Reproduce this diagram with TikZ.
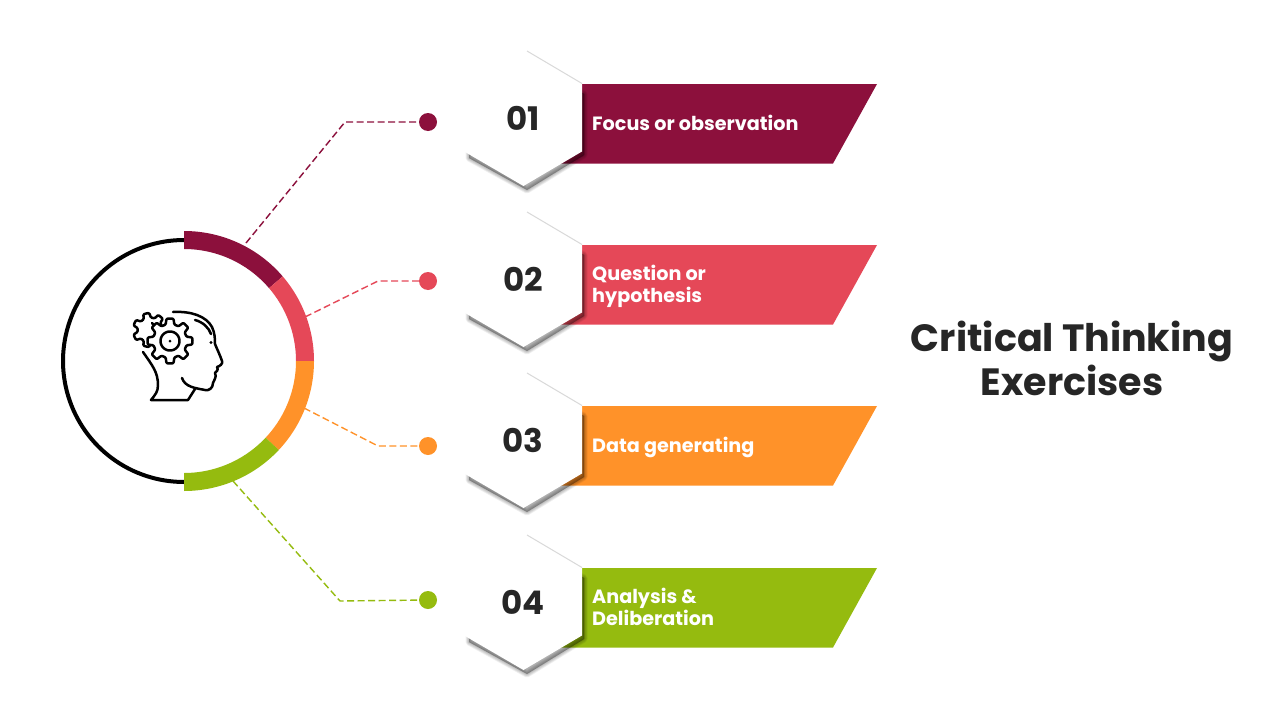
\documentclass[tikz,border=0pt]{standalone}
\usepackage{fontspec}
\setmainfont{Poppins}
\definecolor{cA}{HTML}{8C103C}
\definecolor{cB}{HTML}{E54858}
\definecolor{cC}{HTML}{FF9229}
\definecolor{cD}{HTML}{95BB0F}
\definecolor{ink}{HTML}{262626}
\tikzset{
  x=1pt,y=-1pt,
  barshape/.style={fill=#1,draw=none},
  hexshape/.style={fill=white,draw=none},
  softshadow/.style={fill=black,draw=black,fill opacity=.06,draw opacity=.06,line join=round,line width=#1},
  numlabel/.style={font=\bfseries\fontsize{32.5}{32.5}\selectfont,text=ink,anchor=center,inner sep=0pt},
  barlabel/.style={font=\bfseries\fontsize{19.2}{22}\selectfont,text=white,anchor=west,align=left,inner sep=0pt},
  dotnode/.style={circle,fill=#1,draw=none,minimum size=18pt,inner sep=0pt},
  leader/.style={draw=#1,line width=1.4pt,dash pattern=on 7pt off 3.5pt},
  seg/.style={fill=#1,draw=none},
  icon/.style={draw=black,line width=2.5pt,line cap=round,line join=round},
}
\newcommand{\ringseg}[3]{\fill[seg=#1] plot[domain=#2:#3,samples=40] ({184+130*cos(\x)},{361+130*sin(\x)}) -- plot[domain=#3:#2,samples=40] ({184+112*cos(\x)},{361+112*sin(\x)}) -- cycle;}
\newcommand{\gearshape}[5]{% cx cy R r n
  \pgfmathsetmacro{\st}{360/#5}
  \path[icon,fill=white,rounded corners=1pt] (#1+#3,#2)
  \foreach \k in {1,...,#5}{
    -- ({#1+#3*cos((\k-1)*\st+.2*\st)},{#2+#3*sin((\k-1)*\st+.2*\st)})
    -- ({#1+#4*cos((\k-1)*\st+.33*\st)},{#2+#4*sin((\k-1)*\st+.33*\st)})
    -- ({#1+#4*cos((\k-1)*\st+.67*\st)},{#2+#4*sin((\k-1)*\st+.67*\st)})
    -- ({#1+#3*cos((\k-1)*\st+.8*\st)},{#2+#3*sin((\k-1)*\st+.8*\st)})
    -- ({#1+#3*cos(\k*\st)},{#2+#3*sin(\k*\st)})
  } -- cycle;}
\newcommand{\rowitem}[6]{% id, top y, colour, number, text, text dy
  \fill[barshape=#3] (560,#2) -- (877,#2) -- (833,#2+79.5) -- (560,#2+79.5) -- cycle;
  \foreach \w in {7,5.5,4,2.5,1,0.1}{
    \path[softshadow=\w pt] (527,#2-20) -- (584,#2+10) -- (584,#2+71) -- (527,#2+106) -- (469,#2+74) -- (469,#2+10) -- cycle;
  }
  \path[hexshape] (523.5,#2-32.5) -- (582,#2) -- (582,#2+67.5) -- (523.5,#2+102) -- (465,#2+68) -- (465,#2+1) -- cycle;
  \draw[black!15,line width=1pt] (527,#2-33) -- (582,#2-.5);
  \node[numlabel] (num#1) at (523,#2+34) {#4};
  \node[barlabel] (lab#1) at (592,#2+#6) {#5};
}
\begin{document}
\begin{tikzpicture}
\useasboundingbox (0,0) rectangle (1280,720);
\fill[white] (0,0) rectangle (1280,720);
% rows
\rowitem{a}{84}{cA}{01}{Focus or observation}{38.5}
\rowitem{b}{245}{cB}{02}{Question or\\hypothesis}{41}
\rowitem{c}{406}{cC}{03}{Data generating}{41.5}
\rowitem{d}{568}{cD}{04}{Analysis \&\\Deliberation}{39}
% dots
\node[dotnode=cA] (dota) at (428,122) {};
\node[dotnode=cB] (dotb) at (428,281) {};
\node[dotnode=cC] (dotc) at (428,446) {};
\node[dotnode=cD] (dotd) at (428,600) {};
% connector ends on the ring
\coordinate (ra) at (246,243);
\coordinate (rb) at (305,317);
\coordinate (rc) at (304,408);
\coordinate (rd) at (233,481);
\draw[leader=cA] (ra) -- (345,122) -- (dota.center);
\draw[leader=cB] (rb) -- (378,281) -- (dotb.center);
\draw[leader=cC] (rc) -- (378,446) -- (dotc.center);
\draw[leader=cD] (rd) -- (340,601) -- (dotd.center);
% ring
\draw[black,line width=4pt] plot[domain=90:270,samples=80] ({184+121*cos(\x)},{361+121*sin(\x)});
\ringseg{cA}{-90}{-40.6}
\ringseg{cB}{-40.6}{0}
\ringseg{cC}{0}{43.2}
\ringseg{cD}{43.2}{90}
% head icon
\draw[icon] (173,312) .. controls (191,311) and (206,316) .. (212,327)
  .. controls (215,333) and (215,340) .. (215,344)
  .. controls (217,349) and (220,355) .. (222,361)
  .. controls (223,364) and (220,366) .. (217,367)
  .. controls (219,370) and (216,372) .. (215,373)
  .. controls (217,377) and (214,380) .. (213,383)
  .. controls (213,388) and (209,391) .. (205,390)
  .. controls (195,388) and (185,387) .. (182,378);
\draw[icon] (195,320) .. controls (203,322) and (209,328) .. (211,334);
\draw[icon] (195,389) -- (188,400) -- (151,400) .. controls (155,395) and (158,392) .. (158,385) .. controls (158,372) and (152,365) .. (143,352);
\fill[black] (211,342.5) circle (1.6);
\gearshape{150}{330}{17}{12.5}{7}
\draw[icon] (152,323) .. controls (155,326) and (156,329) .. (155,332);
\gearshape{170}{341}{22.5}{17}{8}
\draw[icon] plot[domain=0:360,samples=40] ({170+9.5*cos(\x)},{341+9.5*sin(\x)});
\fill[black] (170,341) circle (1.5);
% title
\node[font=\bfseries\fontsize{38}{44.5}\selectfont,text=ink,align=center,inner sep=0pt] (title) at (1072,358.5) {Critical Thinking\\Exercises};
\end{tikzpicture}
\end{document}
